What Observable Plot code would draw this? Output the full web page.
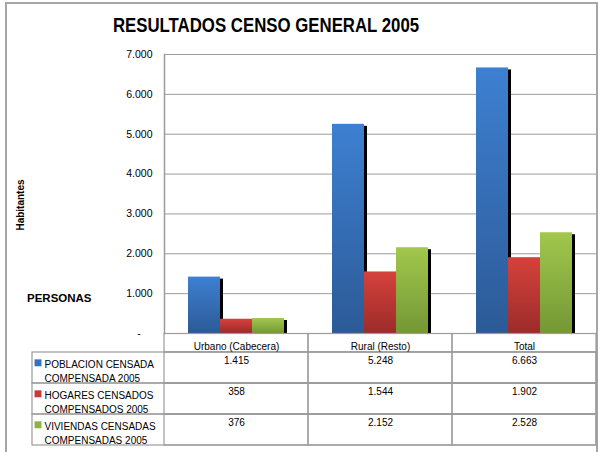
<!DOCTYPE html>
<html><head><meta charset="utf-8">
<script src="https://cdn.jsdelivr.net/npm/d3@7"></script>
<script src="https://cdn.jsdelivr.net/npm/@observablehq/plot@0.6"></script>
<style>
html,body{margin:0;padding:0;background:#fff;}
#wrap{position:relative;width:598px;height:452px;overflow:hidden;font-family:"Liberation Sans",Arial,sans-serif;color:#000;}
#border{position:absolute;left:5px;top:2px;width:589px;height:480px;border:2px solid #a6a6a6;}
#chart,#table{position:absolute;left:0;top:0;}
#title{position:absolute;left:0;top:15px;width:532px;text-align:center;font-weight:bold;font-size:20px;line-height:20px;transform:scaleX(0.84);transform-origin:50% 50%;white-space:nowrap;}
#personas{position:absolute;left:27px;top:292px;font-weight:bold;font-size:11.5px;line-height:13px;white-space:nowrap;}
#ylab{position:absolute;left:-19.5px;top:199px;width:80px;text-align:center;font-weight:bold;font-size:10px;line-height:12px;transform:rotate(-90deg);transform-origin:50% 50%;white-space:nowrap;}
</style></head>
<body>
<svg width="0" height="0" style="position:absolute">
  <defs>
    <linearGradient id="gBlue" x1="0" y1="0" x2="0" y2="1"><stop offset="0" stop-color="#3d80d1"/><stop offset="1" stop-color="#2c5a97"/></linearGradient>
    <linearGradient id="gRed" x1="0" y1="0" x2="0" y2="1"><stop offset="0" stop-color="#d6413c"/><stop offset="1" stop-color="#9b2c2a"/></linearGradient>
    <linearGradient id="gGreen" x1="0" y1="0" x2="0" y2="1"><stop offset="0" stop-color="#a2c74d"/><stop offset="1" stop-color="#739835"/></linearGradient>
  </defs>
</svg>
<div id="wrap">
  <div id="border"></div>
  <div id="chart"></div>
  <div id="table"></div>
  <div id="title">RESULTADOS CENSO GENERAL 2005</div>
  <div id="personas">PERSONAS</div>
  <div id="ylab">Habitantes</div>
</div>
<script>
const categories = ["Urbano (Cabecera)", "Rural (Resto)", "Total"];
const series = [
  "POBLACION CENSADA\nCOMPENSADA 2005",
  "HOGARES CENSADOS\nCOMPENSADOS 2005",
  "VIVIENDAS CENSADAS\nCOMPENSADAS 2005"
];
const poblacion = [1415, 5248, 6663];
const hogares = [358, 1544, 1902];
const viviendas = [376, 2152, 2528];
const yTicks = [0, 1000, 2000, 3000, 4000, 5000, 6000, 7000];
const gradientFills = ["url(#gBlue)", "url(#gRed)", "url(#gGreen)"];
const swatchFills = ["#3670c0", "#c63a37", "#8bb443"];

const values = [poblacion, hogares, viviendas];
const data = categories.flatMap((c, i) => series.map((s, j) => ({cat: c, series: s, value: values[j][i]})));

const num = d => d3.format(",")(d).replace(/,/g, ".");
const tickFmt = d => d === 0 ? "-\u00a0\u00a0\u00a0\u00a0" : num(d);
const font = {fontFamily: "'Liberation Sans', Arial, sans-serif", fontSize: "10px", color: "#000", background: "transparent", overflow: "visible"};
const lineColor = "#9c9c9c";

const chart = Plot.plot({
  width: 598, height: 452,
  marginTop: 54, marginBottom: 119, marginLeft: 163, marginRight: 2,
  style: font,
  fx: {domain: categories, padding: 0, axis: null},
  x: {domain: series, paddingInner: 0, paddingOuter: 0.706, axis: null},
  y: {domain: [0, 7000], axis: null},
  color: {domain: series, range: gradientFills},
  marks: [
    Plot.gridY(yTicks, {stroke: lineColor, strokeOpacity: 1, strokeWidth: 1}),
    Plot.axisY(yTicks, {tickSize: 0, tickPadding: 12, tickFormat: tickFmt, label: null, fontSize: 10.5}),
    Plot.frame({anchor: "left", stroke: lineColor, strokeWidth: 1.5, facetAnchor: "left"}),
    Plot.barY(data, {fx: "cat", x: "series", y: "value", fill: "black", dx: 3, insetTop: 2}),
    Plot.barY(data, {fx: "cat", x: "series", y: "value", fill: "series"})
  ]
});
document.getElementById("chart").append(chart);

const bw = (452 - 352 - 6.5) / 3;
const table = Plot.plot({
  width: 598, height: 452,
  marginTop: 352, marginBottom: 6.5, marginLeft: 163, marginRight: 2,
  style: font,
  x: {domain: categories, padding: 0, axis: null},
  y: {domain: series, padding: 0, axis: null},
  color: {domain: series, range: swatchFills},
  marks: [
    Plot.cell(series, {y: d => d, fill: "none", stroke: lineColor, strokeWidth: 1.2, insetLeft: -131}),
    Plot.cell(data, {x: "cat", y: "series", fill: "none", stroke: lineColor, strokeWidth: 1.2}),
    Plot.cell(categories, {x: d => d, y: () => series[0], fill: "none", stroke: lineColor, strokeWidth: 1.2, insetTop: -18.5, insetBottom: bw}),
    Plot.text(categories, {x: d => d, text: d => d, frameAnchor: "top", dy: -9.7}),
    Plot.text(data, {x: "cat", y: "series", text: d => num(d.value), dy: -7.3}),
    Plot.text(series, {y: d => d, text: d => d, frameAnchor: "left", textAnchor: "start", dx: -119, lineAnchor: "top", dy: -9.7, lineHeight: 1.4}),
    Plot.dot(series, {y: d => d, frameAnchor: "left", dx: -125.5, dy: -5.2, symbol: "square", r: 3.9, fill: d => d, stroke: null})
  ]
});
document.getElementById("table").append(table);
</script>
</body></html>
